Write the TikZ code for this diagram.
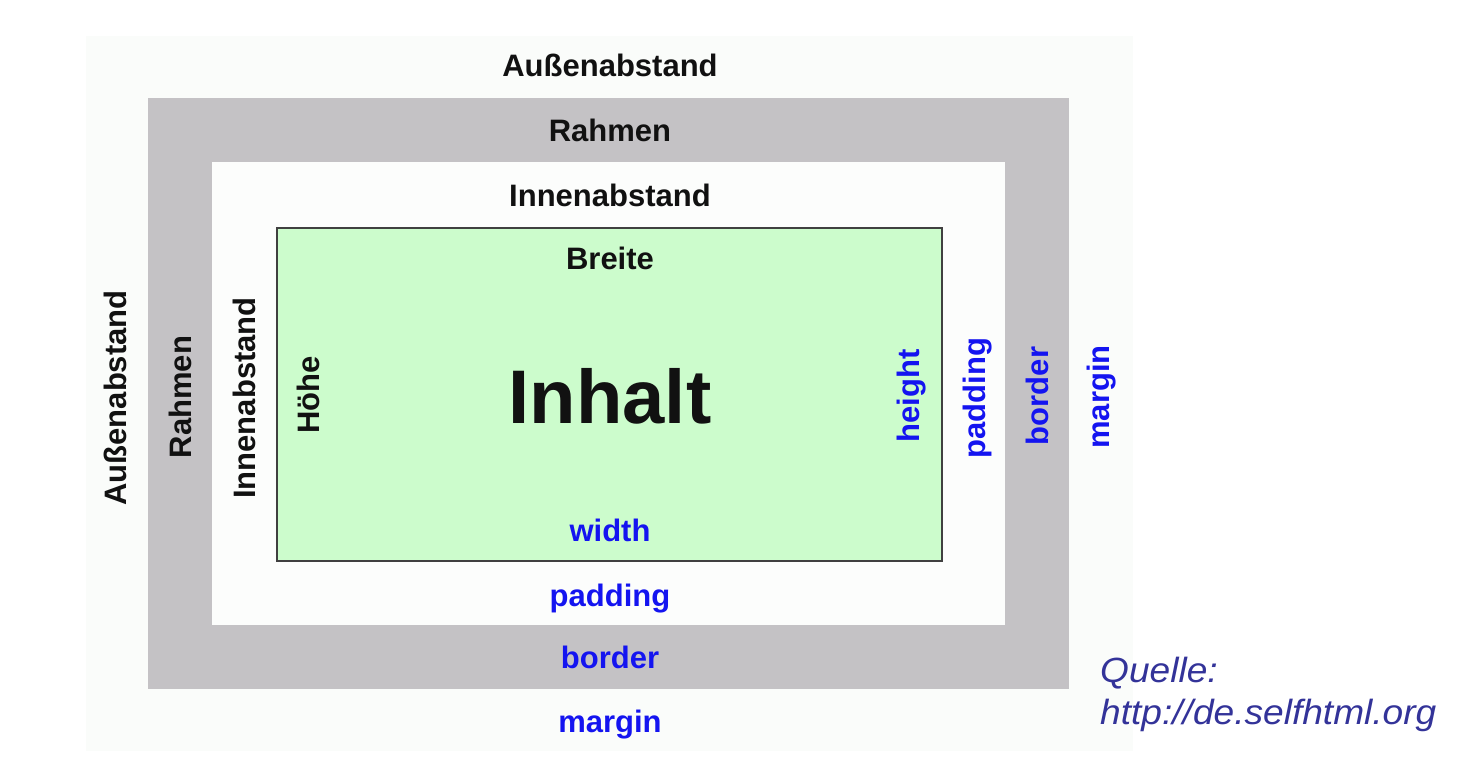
\documentclass[tikz,border=0pt]{standalone}
\usepackage{fontspec}
\setmainfont{Liberation Sans}
\newfontfamily\quellefont[FakeStretch=1.06]{Liberation Sans}
\definecolor{marginbg}{HTML}{FAFCFA}
\definecolor{bordergray}{HTML}{C4C2C5}
\definecolor{paddingbg}{HTML}{FCFDFC}
\definecolor{contentgreen}{HTML}{CCFCCC}
\definecolor{contentline}{HTML}{404040}
\definecolor{labelblue}{RGB}{20,20,240}
\definecolor{labelblack}{HTML}{111111}
\definecolor{quelleblue}{HTML}{333399}
\begin{document}
\begin{tikzpicture}[x=1pt,y=-1pt,
  lbl/.style={inner sep=0pt,anchor=base,font=\fontsize{31}{36}\selectfont\bfseries},
  de/.style={lbl,text=labelblack},
  en/.style={lbl,text=labelblue},
  vert/.style={rotate=90},
  src/.style={inner sep=0pt,anchor=base west,text=quelleblue,font=\quellefont\itshape\fontsize{35}{40}\selectfont}]
\useasboundingbox[fill=white] (0,0) rectangle (1460,759);
% boxes
\fill[marginbg] (86,36) rectangle (1133,751);
\fill[bordergray] (148,98) rectangle (1069,689);
\fill[paddingbg] (212,162) rectangle (1005,625);
\filldraw[fill=contentgreen,draw=contentline,line width=2pt] (277,228) rectangle (942,561);
% horizontal labels
\node[de] (mt) at (610,77) {Außenabstand};
\node[de] (bt) at (610,142) {Rahmen};
\node[de] (pt) at (610,207) {Innenabstand};
\node[de] (ct) at (610,270) {Breite};
\node[inner sep=0pt,anchor=base,text=labelblack,font=\fontsize{76}{80}\selectfont\bfseries] (inhalt) at (610,423) {Inhalt};
\node[en] (cb) at (610,541) {width};
\node[en] (pb) at (610,606) {padding};
\node[en] (bb) at (610,668) {border};
\node[en] (mb) at (610,732) {margin};
% vertical labels left
\node[de,vert] (ml) at (126,398) {Außenabstand};
\node[de,vert] (bl) at (191,397) {Rahmen};
\node[de,vert] (pl) at (255,398) {Innenabstand};
\node[de,vert] (cl) at (319,395) {Höhe};
% vertical labels right
\node[en,vert] (cr) at (919,396) {height};
\node[en,vert] (pr) at (985,398) {padding};
\node[en,vert] (br) at (1048,396) {border};
\node[en,vert] (mr) at (1109,397) {margin};
% source
\node[src] (q1) at (1100,682) {Quelle:};
\node[src] (q2) at (1100,724) {http://de.selfhtml.org};
\end{tikzpicture}
\end{document}
